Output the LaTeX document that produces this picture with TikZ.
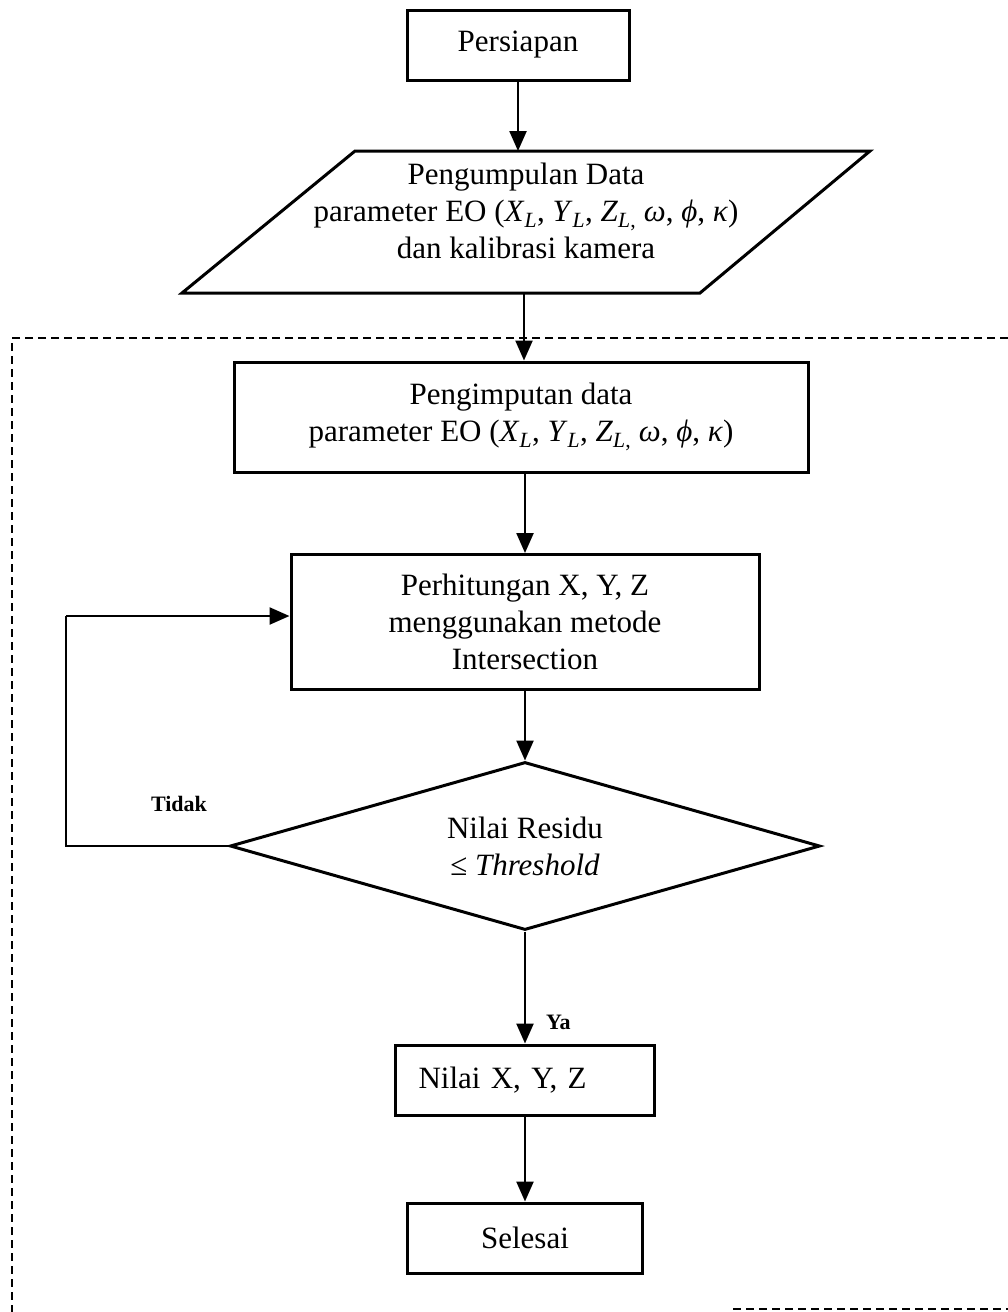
\documentclass[tikz,border=0pt]{standalone}
\usepackage{fontspec}
\setmainfont{Liberation Serif}
\usetikzlibrary{arrows.meta,shapes.geometric}
\begin{document}
\begin{tikzpicture}[x=1pt,y=-1pt,
  mainfont/.style={font=\fontsize{31}{37}\selectfont},
  box/.style={draw,line width=3pt,inner sep=0pt,align=center,mainfont},
  txt/.style={inner sep=0pt,align=center,mainfont},
  arr/.style={line width=2.4pt,-{Triangle[length=20pt,width=17pt]}},
  lbl/.style={inner sep=0pt,font=\bfseries\fontsize{22}{26}\selectfont},
  dsh/.style={line width=2.2pt,dash pattern=on 8pt off 5pt}]
\useasboundingbox (0,0) rectangle (1008,1312);

% dashed region
\coordinate (dTL) at (12,338);
\coordinate (dTR) at (1008,338);
\coordinate (dBL) at (12,1312);
\coordinate (dB1) at (733,1309);
\coordinate (dB2) at (1008,1309);
\draw[dsh] (dTR) -- (dTL) -- (dBL);
\draw[dsh] (dB1) -- (dB2);

% nodes
\node[box,minimum width=222pt,minimum height=70pt] (persiapan) at (518,45) {Persiapan};

\draw[line width=3pt,line join=miter] (182,293) -- (355,151) -- (870,151) -- (700,293) -- cycle;
\node[txt] (pengumpulan) at (526,211) {Pengumpulan Data\\parameter EO (\textit{X}\textsubscript{\textit{L}}, \textit{Y}\textsubscript{\textit{L}}, \textit{Z}\textsubscript{\textit{L},} \textit{ω}, \textit{ϕ}, \textit{κ})\\dan kalibrasi kamera};
\coordinate (pgtop) at (518,151);
\coordinate (pgbot) at (524,293);

\node[box,minimum width=574pt,minimum height=110pt] (pengimputan) at (521,417) {Pengimputan data\\parameter EO (\textit{X}\textsubscript{\textit{L}}, \textit{Y}\textsubscript{\textit{L}}, \textit{Z}\textsubscript{\textit{L},} \textit{ω}, \textit{ϕ}, \textit{κ})};

\node[box,minimum width=468pt,minimum height=135pt] (perhitungan) at (525,622) {Perhitungan X, Y, Z\\menggunakan metode\\Intersection};

\node[draw,diamond,aspect=3.5,line width=3pt,inner sep=0pt,align=center,mainfont,minimum width=590pt,minimum height=168pt] (residu) at (525,846) {Nilai Residu\\≤ \textit{Threshold}};

\node[box,minimum width=259pt,minimum height=70pt,text width=213pt,inner xsep=23pt,align=left] (nilai) at (525,1080) {Nilai X, Y, Z};

\node[box,minimum width=235pt,minimum height=70pt] (selesai) at (525,1238) {Selesai};

% connectors
\draw[arr] (persiapan.south) -- (pgtop);
\draw[arr] (pgbot) -- (pgbot |- pengimputan.north);
\draw[arr] (pengimputan.south -| perhitungan.north) -- (perhitungan.north);
\draw[arr] (perhitungan.south) -- (residu.north);
\draw[arr] (residu.south) -- (nilai.north);
\draw[arr] (nilai.south) -- (selesai.north);

\coordinate (lp1) at (66,846);
\coordinate (lp2) at (66,616);
\draw[line width=2.4pt] (residu.west) -- (lp1) -- (lp2);
\draw[arr] (lp2) -- (perhitungan.west |- lp2);

\node[lbl] (tidak) at (179,804) {Tidak};
\node[lbl,anchor=west] (ya) at (546,1022) {Ya};
\end{tikzpicture}
\end{document}
